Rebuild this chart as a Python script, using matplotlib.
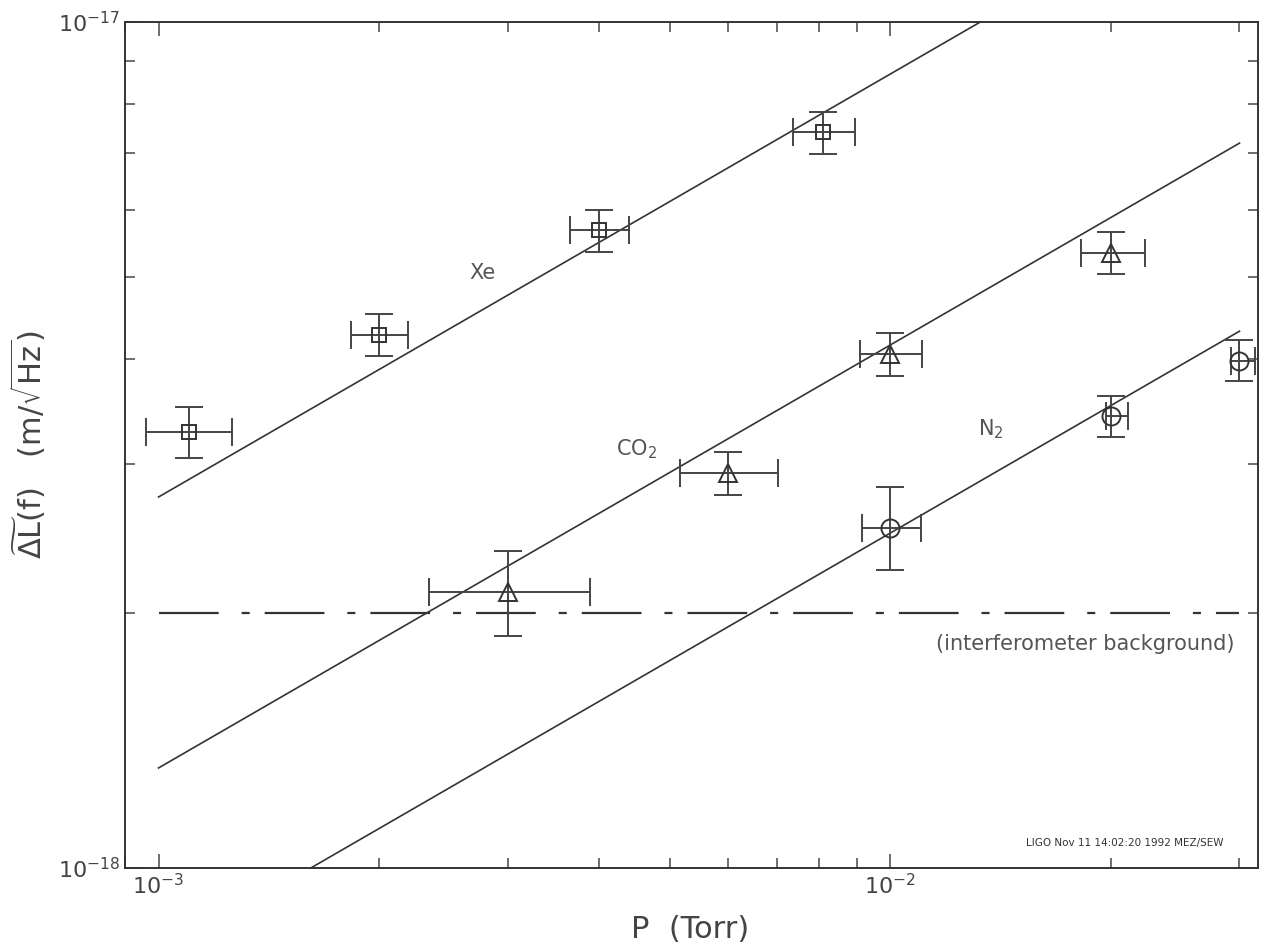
import matplotlib
matplotlib.use("Agg")
import matplotlib.pyplot as plt
from matplotlib.ticker import LogLocator, NullFormatter
import numpy as np

plt.rcParams['font.family'] = ['DejaVu Sans']
plt.rcParams['mathtext.fontset'] = 'dejavusans'
plt.rcParams['lines.scale_dashes'] = False

# Xe (squares)
xe_p = [1.1e-3, 2.0e-3, 4.0e-3, 8.1e-3]
xe_p_lo = [0.96e-3, 1.83e-3, 3.65e-3, 7.37e-3]
xe_p_hi = [1.26e-3, 2.19e-3, 4.39e-3, 8.96e-3]
xe_dl = [3.28e-18, 4.27e-18, 5.68e-18, 7.41e-18]
xe_dl_lo = [3.05e-18, 4.03e-18, 5.35e-18, 6.98e-18]
xe_dl_hi = [3.51e-18, 4.52e-18, 6.00e-18, 7.83e-18]

# CO2 (triangles)
co2_p = [3.0e-3, 6.0e-3, 1.0e-2, 2.0e-2]
co2_p_lo = [2.34e-3, 5.16e-3, 0.91e-2, 1.82e-2]
co2_p_hi = [3.89e-3, 7.03e-3, 1.106e-2, 2.23e-2]
co2_dl = [2.12e-18, 2.93e-18, 4.05e-18, 5.33e-18]
co2_dl_lo = [1.88e-18, 2.76e-18, 3.82e-18, 5.04e-18]
co2_dl_hi = [2.37e-18, 3.10e-18, 4.29e-18, 5.65e-18]

# N2 (circles)
n2_p = [1.0e-2, 2.0e-2, 3.0e-2]
n2_p_lo = [0.916e-2, 1.97e-2, 2.92e-2]
n2_p_hi = [1.10e-2, 2.11e-2, 3.15e-2]
n2_dl = [2.52e-18, 3.42e-18, 3.98e-18]
n2_dl_lo = [2.25e-18, 3.23e-18, 3.76e-18]
n2_dl_hi = [2.82e-18, 3.61e-18, 4.21e-18]

# sqrt(P) fit lines: value at P = 1e-3
fit_names = ['Xe', 'CO2', 'N2']
fit_at_1e3 = [2.745e-18, 1.313e-18, 0.787e-18]
fit_p_range = [1e-3, 3e-2]
background = 2e-18

fig = plt.figure(figsize=(12.68, 9.5), dpi=100)
ax = fig.add_axes([0.0986, 0.0863, 0.8935, 0.8905])
ax.set_xscale('log')
ax.set_yscale('log')

pp = np.logspace(np.log10(fit_p_range[0]), np.log10(fit_p_range[1]), 200)
for a in fit_at_1e3:
    ax.plot(pp, a * np.sqrt(pp / 1e-3), color='#333333', lw=1.2)

ax.plot(fit_p_range, [background, background], color='#333333', lw=1.6,
        linestyle=(0, (43, 16.5, 5.8, 10.8)))

def errs(v, lo, hi):
    v = np.array(v)
    return [v - np.array(lo), np.array(hi) - v]

kw = dict(ls='none', mfc='none', color='#333333', ecolor='#444444',
          elinewidth=1.4, capsize=10, capthick=1.4, mew=1.4)
ax.errorbar(xe_p, xe_dl, xerr=errs(xe_p, xe_p_lo, xe_p_hi),
            yerr=errs(xe_dl, xe_dl_lo, xe_dl_hi), marker='s', ms=10, **kw)
ax.errorbar(co2_p, co2_dl, xerr=errs(co2_p, co2_p_lo, co2_p_hi),
            yerr=errs(co2_dl, co2_dl_lo, co2_dl_hi), marker='^', ms=13, **kw)
ax.errorbar(n2_p, n2_dl, xerr=errs(n2_p, n2_p_lo, n2_p_hi),
            yerr=errs(n2_dl, n2_dl_lo, n2_dl_hi), marker='o', ms=13, **kw)

tc = '#555555'
ax.text(2.77e-3, 5.05e-18, 'Xe', fontsize=15, color=tc, ha='center', va='center')
ax.text(4.5e-3, 3.13e-18, r'CO$_2$', fontsize=15, color=tc, ha='center', va='center')
ax.text(1.37e-2, 3.3e-18, r'N$_2$', fontsize=15, color=tc, ha='center', va='center')
ax.text(2.95e-2, 1.84e-18, '(interferometer background)', fontsize=15,
        color=tc, ha='right', va='center')
ax.text(2.85e-2, 1.07e-18, 'LIGO Nov 11 14:02:20 1992 MEZ/SEW', fontsize=7.5,
        color='#333333', ha='right', va='center')

ax.set_xlim(9.0e-4, 3.18e-2)
ax.set_ylim(1e-18, 1e-17)
ax.xaxis.set_major_locator(LogLocator(base=10))
ax.xaxis.set_minor_locator(LogLocator(base=10, subs=np.arange(2, 10)))
ax.yaxis.set_minor_locator(LogLocator(base=10, subs=np.arange(2, 10)))
ax.xaxis.set_minor_formatter(NullFormatter())
ax.yaxis.set_minor_formatter(NullFormatter())
ax.tick_params(which='both', direction='in', top=True, right=True,
               colors='#555555', labelcolor='#444444', labelsize=16)
ax.tick_params(which='major', length=10, width=1.2)
ax.tick_params(which='minor', length=7, width=1.2)
for s in ax.spines.values():
    s.set_color('#333333')
    s.set_linewidth(1.4)

ax.set_xlabel('P  (Torr)', fontsize=22, color='#444444')
ax.xaxis.set_label_coords(0.4987, -0.055)
ax.set_ylabel(r'$\widetilde{\Delta \mathrm{L}}\mathrm{(f)}$   (m/$\sqrt{\mathrm{Hz}}$)',
              fontsize=22, color='#444444')
ax.yaxis.set_label_coords(-0.068, 0.5)

fig.savefig('out.png', dpi=100, facecolor='white')
